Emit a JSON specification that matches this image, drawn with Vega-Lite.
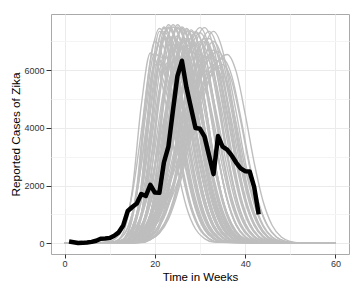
{
"$schema": "https://vega.github.io/schema/vega-lite/v6.json",
"width": 298, "height": 240,
"autosize": {"type": "none"},
"padding": {"left": 51, "top": 14, "right": 14, "bottom": 37},
"config": {"font": "Liberation Sans", "view": {"stroke": "#a9a9a9", "strokeWidth": 1}},
"datasets": {
"sims": [
{"i":1,"x":0,"y":0},{"i":1,"x":11,"y":40},{"i":1,"x":13,"y":370},{"i":1,"x":15,"y":1835},{"i":1,"x":17,"y":4790},{"i":1,"x":19,"y":6600},{"i":1,"x":21,"y":5950},{"i":1,"x":23,"y":4360},{"i":1,"x":25,"y":2610},{"i":1,"x":27,"y":1260},{"i":1,"x":29,"y":495},{"i":1,"x":31,"y":160},{"i":1,"x":33,"y":40},{"i":1,"x":60,"y":0},
{"i":2,"x":0,"y":0},{"i":2,"x":12,"y":42},{"i":2,"x":14,"y":392},{"i":2,"x":16,"y":1946},{"i":2,"x":18,"y":5082},{"i":2,"x":20,"y":7000},{"i":2,"x":22,"y":6314},{"i":2,"x":24,"y":4627},{"i":2,"x":26,"y":2765},{"i":2,"x":28,"y":1337},{"i":2,"x":30,"y":525},{"i":2,"x":32,"y":168},{"i":2,"x":34,"y":42},{"i":2,"x":60,"y":0},
{"i":3,"x":0,"y":0},{"i":3,"x":13,"y":44},{"i":3,"x":15,"y":412},{"i":3,"x":17,"y":2043},{"i":3,"x":19,"y":5336},{"i":3,"x":21,"y":7350},{"i":3,"x":23,"y":6630},{"i":3,"x":25,"y":4858},{"i":3,"x":27,"y":2903},{"i":3,"x":29,"y":1404},{"i":3,"x":31,"y":551},{"i":3,"x":33,"y":176},{"i":3,"x":35,"y":44},{"i":3,"x":60,"y":0},
{"i":4,"x":0,"y":0},{"i":4,"x":13,"y":39},{"i":4,"x":15,"y":364},{"i":4,"x":17,"y":1807},{"i":4,"x":19,"y":4719},{"i":4,"x":21,"y":6500},{"i":4,"x":23,"y":5863},{"i":4,"x":25,"y":4297},{"i":4,"x":27,"y":2568},{"i":4,"x":29,"y":1242},{"i":4,"x":31,"y":488},{"i":4,"x":33,"y":156},{"i":4,"x":35,"y":39},{"i":4,"x":60,"y":0},
{"i":5,"x":0,"y":0},{"i":5,"x":14,"y":43},{"i":5,"x":16,"y":403},{"i":5,"x":18,"y":2002},{"i":5,"x":20,"y":5227},{"i":5,"x":22,"y":7200},{"i":5,"x":24,"y":6494},{"i":5,"x":26,"y":4759},{"i":5,"x":28,"y":2844},{"i":5,"x":30,"y":1375},{"i":5,"x":32,"y":540},{"i":5,"x":34,"y":173},{"i":5,"x":36,"y":43},{"i":5,"x":60,"y":0},
{"i":6,"x":0,"y":0},{"i":6,"x":10,"y":22},{"i":6,"x":12,"y":127},{"i":6,"x":14,"y":544},{"i":6,"x":16,"y":1714},{"i":6,"x":18,"y":3874},{"i":6,"x":20,"y":6325},{"i":6,"x":22,"y":7450},{"i":6,"x":24,"y":6750},{"i":6,"x":26,"y":5021},{"i":6,"x":28,"y":3062},{"i":6,"x":30,"y":1535},{"i":6,"x":32,"y":633},{"i":6,"x":34,"y":216},{"i":6,"x":36,"y":60},{"i":6,"x":60,"y":0},
{"i":7,"x":0,"y":0},{"i":7,"x":11,"y":22},{"i":7,"x":13,"y":128},{"i":7,"x":15,"y":548},{"i":7,"x":17,"y":1725},{"i":7,"x":19,"y":3900},{"i":7,"x":21,"y":6368},{"i":7,"x":23,"y":7500},{"i":7,"x":25,"y":6795},{"i":7,"x":27,"y":5055},{"i":7,"x":29,"y":3083},{"i":7,"x":31,"y":1545},{"i":7,"x":33,"y":638},{"i":7,"x":35,"y":218},{"i":7,"x":37,"y":60},{"i":7,"x":60,"y":0},
{"i":8,"x":0,"y":0},{"i":8,"x":11,"y":19},{"i":8,"x":13,"y":107},{"i":8,"x":15,"y":460},{"i":8,"x":17,"y":1449},{"i":8,"x":19,"y":3276},{"i":8,"x":21,"y":5349},{"i":8,"x":23,"y":6300},{"i":8,"x":25,"y":5708},{"i":8,"x":27,"y":4246},{"i":8,"x":29,"y":2589},{"i":8,"x":31,"y":1298},{"i":8,"x":33,"y":536},{"i":8,"x":35,"y":183},{"i":8,"x":37,"y":50},{"i":8,"x":60,"y":0},
{"i":9,"x":0,"y":0},{"i":9,"x":12,"y":23},{"i":9,"x":14,"y":129},{"i":9,"x":16,"y":553},{"i":9,"x":18,"y":1743},{"i":9,"x":20,"y":3942},{"i":9,"x":22,"y":6435},{"i":9,"x":24,"y":7580},{"i":9,"x":26,"y":6867},{"i":9,"x":28,"y":5109},{"i":9,"x":30,"y":3115},{"i":9,"x":32,"y":1561},{"i":9,"x":34,"y":644},{"i":9,"x":36,"y":220},{"i":9,"x":38,"y":61},{"i":9,"x":60,"y":0},
{"i":10,"x":0,"y":0},{"i":10,"x":16,"y":41},{"i":10,"x":18,"y":386},{"i":10,"x":20,"y":1918},{"i":10,"x":22,"y":5009},{"i":10,"x":24,"y":6900},{"i":10,"x":26,"y":6224},{"i":10,"x":28,"y":4561},{"i":10,"x":30,"y":2726},{"i":10,"x":32,"y":1318},{"i":10,"x":34,"y":518},{"i":10,"x":36,"y":166},{"i":10,"x":38,"y":41},{"i":10,"x":60,"y":0},
{"i":11,"x":0,"y":0},{"i":11,"x":12,"y":22},{"i":11,"x":14,"y":122},{"i":11,"x":16,"y":526},{"i":11,"x":18,"y":1656},{"i":11,"x":20,"y":3744},{"i":11,"x":22,"y":6113},{"i":11,"x":24,"y":7200},{"i":11,"x":26,"y":6523},{"i":11,"x":28,"y":4853},{"i":11,"x":30,"y":2959},{"i":11,"x":32,"y":1483},{"i":11,"x":34,"y":612},{"i":11,"x":36,"y":209},{"i":11,"x":38,"y":58},{"i":11,"x":60,"y":0},
{"i":12,"x":0,"y":0},{"i":12,"x":13,"y":22},{"i":12,"x":15,"y":128},{"i":12,"x":17,"y":548},{"i":12,"x":19,"y":1725},{"i":12,"x":21,"y":3900},{"i":12,"x":23,"y":6368},{"i":12,"x":25,"y":7500},{"i":12,"x":27,"y":6795},{"i":12,"x":29,"y":5055},{"i":12,"x":31,"y":3083},{"i":12,"x":33,"y":1545},{"i":12,"x":35,"y":638},{"i":12,"x":37,"y":218},{"i":12,"x":39,"y":60},{"i":12,"x":60,"y":0},
{"i":13,"x":0,"y":0},{"i":13,"x":13,"y":18},{"i":13,"x":15,"y":102},{"i":13,"x":17,"y":438},{"i":13,"x":19,"y":1380},{"i":13,"x":21,"y":3120},{"i":13,"x":23,"y":5094},{"i":13,"x":25,"y":6000},{"i":13,"x":27,"y":5436},{"i":13,"x":29,"y":4044},{"i":13,"x":31,"y":2466},{"i":13,"x":33,"y":1236},{"i":13,"x":35,"y":510},{"i":13,"x":37,"y":174},{"i":13,"x":39,"y":48},{"i":13,"x":60,"y":0},
{"i":14,"x":0,"y":0},{"i":14,"x":14,"y":22},{"i":14,"x":16,"y":127},{"i":14,"x":18,"y":544},{"i":14,"x":20,"y":1714},{"i":14,"x":22,"y":3874},{"i":14,"x":24,"y":6325},{"i":14,"x":26,"y":7450},{"i":14,"x":28,"y":6750},{"i":14,"x":30,"y":5021},{"i":14,"x":32,"y":3062},{"i":14,"x":34,"y":1535},{"i":14,"x":36,"y":633},{"i":14,"x":38,"y":216},{"i":14,"x":40,"y":60},{"i":14,"x":60,"y":0},
{"i":15,"x":0,"y":0},{"i":15,"x":14,"y":20},{"i":15,"x":16,"y":116},{"i":15,"x":18,"y":496},{"i":15,"x":20,"y":1564},{"i":15,"x":22,"y":3536},{"i":15,"x":24,"y":5773},{"i":15,"x":26,"y":6800},{"i":15,"x":28,"y":6161},{"i":15,"x":30,"y":4583},{"i":15,"x":32,"y":2795},{"i":15,"x":34,"y":1401},{"i":15,"x":36,"y":578},{"i":15,"x":38,"y":197},{"i":15,"x":40,"y":54},{"i":15,"x":60,"y":0},
{"i":16,"x":0,"y":0},{"i":16,"x":15,"y":22},{"i":16,"x":17,"y":126},{"i":16,"x":19,"y":540},{"i":16,"x":21,"y":1702},{"i":16,"x":23,"y":3848},{"i":16,"x":25,"y":6283},{"i":16,"x":27,"y":7400},{"i":16,"x":29,"y":6704},{"i":16,"x":31,"y":4988},{"i":16,"x":33,"y":3041},{"i":16,"x":35,"y":1524},{"i":16,"x":37,"y":629},{"i":16,"x":39,"y":215},{"i":16,"x":41,"y":59},{"i":16,"x":60,"y":0},
{"i":17,"x":0,"y":0},{"i":17,"x":11,"y":43},{"i":17,"x":13,"y":142},{"i":17,"x":15,"y":398},{"i":17,"x":17,"y":959},{"i":17,"x":19,"y":1974},{"i":17,"x":21,"y":3458},{"i":17,"x":23,"y":5155},{"i":17,"x":25,"y":6553},{"i":17,"x":27,"y":7100},{"i":17,"x":29,"y":6461},{"i":17,"x":31,"y":4864},{"i":17,"x":33,"y":3032},{"i":17,"x":35,"y":1562},{"i":17,"x":37,"y":667},{"i":17,"x":39,"y":234},{"i":17,"x":41,"y":71},{"i":17,"x":43,"y":14},{"i":17,"x":60,"y":0},
{"i":18,"x":0,"y":0},{"i":18,"x":15,"y":15},{"i":18,"x":17,"y":85},{"i":18,"x":19,"y":365},{"i":18,"x":21,"y":1150},{"i":18,"x":23,"y":2600},{"i":18,"x":25,"y":4245},{"i":18,"x":27,"y":5000},{"i":18,"x":29,"y":4530},{"i":18,"x":31,"y":3370},{"i":18,"x":33,"y":2055},{"i":18,"x":35,"y":1030},{"i":18,"x":37,"y":425},{"i":18,"x":39,"y":145},{"i":18,"x":41,"y":40},{"i":18,"x":60,"y":0},
{"i":19,"x":0,"y":0},{"i":19,"x":16,"y":22},{"i":19,"x":18,"y":125},{"i":19,"x":20,"y":537},{"i":19,"x":22,"y":1691},{"i":19,"x":24,"y":3822},{"i":19,"x":26,"y":6240},{"i":19,"x":28,"y":7350},{"i":19,"x":30,"y":6659},{"i":19,"x":32,"y":4954},{"i":19,"x":34,"y":3021},{"i":19,"x":36,"y":1514},{"i":19,"x":38,"y":625},{"i":19,"x":40,"y":213},{"i":19,"x":42,"y":59},{"i":19,"x":60,"y":0},
{"i":20,"x":0,"y":0},{"i":20,"x":12,"y":41},{"i":20,"x":14,"y":138},{"i":20,"x":16,"y":386},{"i":20,"x":18,"y":932},{"i":20,"x":20,"y":1918},{"i":20,"x":22,"y":3360},{"i":20,"x":24,"y":5009},{"i":20,"x":26,"y":6369},{"i":20,"x":28,"y":6900},{"i":20,"x":30,"y":6279},{"i":20,"x":32,"y":4727},{"i":20,"x":34,"y":2946},{"i":20,"x":36,"y":1518},{"i":20,"x":38,"y":649},{"i":20,"x":40,"y":228},{"i":20,"x":42,"y":69},{"i":20,"x":44,"y":14},{"i":20,"x":60,"y":0},
{"i":21,"x":0,"y":0},{"i":21,"x":13,"y":44},{"i":21,"x":15,"y":146},{"i":21,"x":17,"y":409},{"i":21,"x":19,"y":986},{"i":21,"x":21,"y":2029},{"i":21,"x":23,"y":3555},{"i":21,"x":25,"y":5300},{"i":21,"x":27,"y":6738},{"i":21,"x":29,"y":7300},{"i":21,"x":31,"y":6643},{"i":21,"x":33,"y":5001},{"i":21,"x":35,"y":3117},{"i":21,"x":37,"y":1606},{"i":21,"x":39,"y":686},{"i":21,"x":41,"y":241},{"i":21,"x":43,"y":73},{"i":21,"x":45,"y":15},{"i":21,"x":60,"y":0},
{"i":22,"x":0,"y":0},{"i":22,"x":13,"y":37},{"i":22,"x":15,"y":124},{"i":22,"x":17,"y":347},{"i":22,"x":19,"y":837},{"i":22,"x":21,"y":1724},{"i":22,"x":23,"y":3019},{"i":22,"x":25,"y":4501},{"i":22,"x":27,"y":5723},{"i":22,"x":29,"y":6200},{"i":22,"x":31,"y":5642},{"i":22,"x":33,"y":4247},{"i":22,"x":35,"y":2647},{"i":22,"x":37,"y":1364},{"i":22,"x":39,"y":583},{"i":22,"x":41,"y":205},{"i":22,"x":43,"y":62},{"i":22,"x":45,"y":12},{"i":22,"x":60,"y":0},
{"i":23,"x":0,"y":0},{"i":23,"x":14,"y":45},{"i":23,"x":16,"y":150},{"i":23,"x":18,"y":419},{"i":23,"x":20,"y":1010},{"i":23,"x":22,"y":2079},{"i":23,"x":24,"y":3643},{"i":23,"x":26,"y":5430},{"i":23,"x":28,"y":6904},{"i":23,"x":30,"y":7480},{"i":23,"x":32,"y":6807},{"i":23,"x":34,"y":5124},{"i":23,"x":36,"y":3194},{"i":23,"x":38,"y":1646},{"i":23,"x":40,"y":703},{"i":23,"x":42,"y":247},{"i":23,"x":44,"y":75},{"i":23,"x":46,"y":15},{"i":23,"x":60,"y":0},
{"i":24,"x":0,"y":0},{"i":24,"x":14,"y":42},{"i":24,"x":16,"y":140},{"i":24,"x":18,"y":392},{"i":24,"x":20,"y":945},{"i":24,"x":22,"y":1946},{"i":24,"x":24,"y":3409},{"i":24,"x":26,"y":5082},{"i":24,"x":28,"y":6461},{"i":24,"x":30,"y":7000},{"i":24,"x":32,"y":6370},{"i":24,"x":34,"y":4795},{"i":24,"x":36,"y":2989},{"i":24,"x":38,"y":1540},{"i":24,"x":40,"y":658},{"i":24,"x":42,"y":231},{"i":24,"x":44,"y":70},{"i":24,"x":46,"y":14},{"i":24,"x":60,"y":0},
{"i":25,"x":0,"y":0},{"i":25,"x":15,"y":43},{"i":25,"x":17,"y":142},{"i":25,"x":19,"y":398},{"i":25,"x":21,"y":959},{"i":25,"x":23,"y":1974},{"i":25,"x":25,"y":3458},{"i":25,"x":27,"y":5155},{"i":25,"x":29,"y":6553},{"i":25,"x":31,"y":7100},{"i":25,"x":33,"y":6461},{"i":25,"x":35,"y":4864},{"i":25,"x":37,"y":3032},{"i":25,"x":39,"y":1562},{"i":25,"x":41,"y":667},{"i":25,"x":43,"y":234},{"i":25,"x":45,"y":71},{"i":25,"x":47,"y":14},{"i":25,"x":60,"y":0},
{"i":26,"x":0,"y":0},{"i":26,"x":16,"y":44},{"i":26,"x":18,"y":147},{"i":26,"x":20,"y":412},{"i":26,"x":22,"y":992},{"i":26,"x":24,"y":2043},{"i":26,"x":26,"y":3579},{"i":26,"x":28,"y":5336},{"i":26,"x":30,"y":6784},{"i":26,"x":32,"y":7350},{"i":26,"x":34,"y":6689},{"i":26,"x":36,"y":5035},{"i":26,"x":38,"y":3138},{"i":26,"x":40,"y":1617},{"i":26,"x":42,"y":691},{"i":26,"x":44,"y":243},{"i":26,"x":46,"y":74},{"i":26,"x":48,"y":15},{"i":26,"x":60,"y":0},
{"i":27,"x":0,"y":0},{"i":27,"x":16,"y":40},{"i":27,"x":18,"y":134},{"i":27,"x":20,"y":375},{"i":27,"x":22,"y":905},{"i":27,"x":24,"y":1863},{"i":27,"x":26,"y":3263},{"i":27,"x":28,"y":4864},{"i":27,"x":30,"y":6184},{"i":27,"x":32,"y":6700},{"i":27,"x":34,"y":6097},{"i":27,"x":36,"y":4590},{"i":27,"x":38,"y":2861},{"i":27,"x":40,"y":1474},{"i":27,"x":42,"y":630},{"i":27,"x":44,"y":221},{"i":27,"x":46,"y":67},{"i":27,"x":48,"y":13},{"i":27,"x":60,"y":0},
{"i":28,"x":0,"y":0},{"i":28,"x":17,"y":42},{"i":28,"x":19,"y":140},{"i":28,"x":21,"y":392},{"i":28,"x":23,"y":945},{"i":28,"x":25,"y":1946},{"i":28,"x":27,"y":3409},{"i":28,"x":29,"y":5082},{"i":28,"x":31,"y":6461},{"i":28,"x":33,"y":7000},{"i":28,"x":35,"y":6370},{"i":28,"x":37,"y":4795},{"i":28,"x":39,"y":2989},{"i":28,"x":41,"y":1540},{"i":28,"x":43,"y":658},{"i":28,"x":45,"y":231},{"i":28,"x":47,"y":70},{"i":28,"x":49,"y":14},{"i":28,"x":60,"y":0},
{"i":29,"x":0,"y":0},{"i":29,"x":17,"y":37},{"i":29,"x":19,"y":124},{"i":29,"x":21,"y":347},{"i":29,"x":23,"y":837},{"i":29,"x":25,"y":1724},{"i":29,"x":27,"y":3019},{"i":29,"x":29,"y":4501},{"i":29,"x":31,"y":5723},{"i":29,"x":33,"y":6200},{"i":29,"x":35,"y":5642},{"i":29,"x":37,"y":4247},{"i":29,"x":39,"y":2647},{"i":29,"x":41,"y":1364},{"i":29,"x":43,"y":583},{"i":29,"x":45,"y":205},{"i":29,"x":47,"y":62},{"i":29,"x":49,"y":12},{"i":29,"x":60,"y":0},
{"i":30,"x":0,"y":0},{"i":30,"x":10,"y":33},{"i":30,"x":12,"y":73},{"i":30,"x":14,"y":160},{"i":30,"x":16,"y":319},{"i":30,"x":18,"y":605},{"i":30,"x":20,"y":1057},{"i":30,"x":22,"y":1722},{"i":30,"x":24,"y":2600},{"i":30,"x":26,"y":3651},{"i":30,"x":28,"y":4741},{"i":30,"x":30,"y":5726},{"i":30,"x":32,"y":6404},{"i":30,"x":34,"y":6650},{"i":30,"x":36,"y":6052},{"i":30,"x":38,"y":4555},{"i":30,"x":40,"y":2840},{"i":30,"x":42,"y":1463},{"i":30,"x":44,"y":625},{"i":30,"x":46,"y":219},{"i":30,"x":48,"y":67},{"i":30,"x":50,"y":13},{"i":30,"x":60,"y":0},
{"i":31,"x":0,"y":0},{"i":31,"x":10,"y":31},{"i":31,"x":12,"y":67},{"i":31,"x":14,"y":146},{"i":31,"x":16,"y":293},{"i":31,"x":18,"y":555},{"i":31,"x":20,"y":970},{"i":31,"x":22,"y":1580},{"i":31,"x":24,"y":2385},{"i":31,"x":26,"y":3349},{"i":31,"x":28,"y":4349},{"i":31,"x":30,"y":5252},{"i":31,"x":32,"y":5874},{"i":31,"x":34,"y":6100},{"i":31,"x":36,"y":5551},{"i":31,"x":38,"y":4179},{"i":31,"x":40,"y":2605},{"i":31,"x":42,"y":1342},{"i":31,"x":44,"y":573},{"i":31,"x":46,"y":201},{"i":31,"x":48,"y":61},{"i":31,"x":50,"y":12},{"i":31,"x":60,"y":0},
{"i":32,"x":0,"y":0},{"i":32,"x":11,"y":32},{"i":32,"x":13,"y":70},{"i":32,"x":15,"y":154},{"i":32,"x":17,"y":307},{"i":32,"x":19,"y":582},{"i":32,"x":21,"y":1018},{"i":32,"x":23,"y":1658},{"i":32,"x":25,"y":2502},{"i":32,"x":27,"y":3514},{"i":32,"x":29,"y":4563},{"i":32,"x":31,"y":5510},{"i":32,"x":33,"y":6163},{"i":32,"x":35,"y":6400},{"i":32,"x":37,"y":5824},{"i":32,"x":39,"y":4384},{"i":32,"x":41,"y":2733},{"i":32,"x":43,"y":1408},{"i":32,"x":45,"y":602},{"i":32,"x":47,"y":211},{"i":32,"x":49,"y":64},{"i":32,"x":51,"y":13},{"i":32,"x":60,"y":0},
{"i":33,"x":0,"y":0},{"i":33,"x":11,"y":31},{"i":33,"x":13,"y":68},{"i":33,"x":15,"y":149},{"i":33,"x":17,"y":298},{"i":33,"x":19,"y":564},{"i":33,"x":21,"y":986},{"i":33,"x":23,"y":1606},{"i":33,"x":25,"y":2424},{"i":33,"x":27,"y":3404},{"i":33,"x":29,"y":4421},{"i":33,"x":31,"y":5338},{"i":33,"x":33,"y":5971},{"i":33,"x":35,"y":6200},{"i":33,"x":37,"y":5642},{"i":33,"x":39,"y":4247},{"i":33,"x":41,"y":2647},{"i":33,"x":43,"y":1364},{"i":33,"x":45,"y":583},{"i":33,"x":47,"y":205},{"i":33,"x":49,"y":62},{"i":33,"x":51,"y":12},{"i":33,"x":60,"y":0},
{"i":34,"x":0,"y":0},{"i":34,"x":12,"y":33},{"i":34,"x":14,"y":72},{"i":34,"x":16,"y":157},{"i":34,"x":18,"y":314},{"i":34,"x":20,"y":596},{"i":34,"x":22,"y":1041},{"i":34,"x":24,"y":1696},{"i":34,"x":26,"y":2561},{"i":34,"x":28,"y":3596},{"i":34,"x":30,"y":4670},{"i":34,"x":32,"y":5640},{"i":34,"x":34,"y":6308},{"i":34,"x":36,"y":6550},{"i":34,"x":38,"y":5961},{"i":34,"x":40,"y":4487},{"i":34,"x":42,"y":2797},{"i":34,"x":44,"y":1441},{"i":34,"x":46,"y":616},{"i":34,"x":48,"y":216},{"i":34,"x":50,"y":66},{"i":34,"x":52,"y":13},{"i":34,"x":60,"y":0},
{"i":35,"x":0,"y":0},{"i":35,"x":12,"y":37},{"i":35,"x":14,"y":347},{"i":35,"x":16,"y":1724},{"i":35,"x":18,"y":4501},{"i":35,"x":20,"y":6200},{"i":35,"x":22,"y":5592},{"i":35,"x":24,"y":4098},{"i":35,"x":26,"y":2449},{"i":35,"x":28,"y":1184},{"i":35,"x":30,"y":465},{"i":35,"x":32,"y":149},{"i":35,"x":34,"y":37},{"i":35,"x":60,"y":0},
{"i":36,"x":0,"y":0},{"i":36,"x":14,"y":17},{"i":36,"x":16,"y":95},{"i":36,"x":18,"y":409},{"i":36,"x":20,"y":1288},{"i":36,"x":22,"y":2912},{"i":36,"x":24,"y":4754},{"i":36,"x":26,"y":5600},{"i":36,"x":28,"y":5074},{"i":36,"x":30,"y":3774},{"i":36,"x":32,"y":2302},{"i":36,"x":34,"y":1154},{"i":36,"x":36,"y":476},{"i":36,"x":38,"y":162},{"i":36,"x":40,"y":45},{"i":36,"x":60,"y":0},
{"i":37,"x":0,"y":0},{"i":37,"x":15,"y":39},{"i":37,"x":17,"y":130},{"i":37,"x":19,"y":364},{"i":37,"x":21,"y":878},{"i":37,"x":23,"y":1807},{"i":37,"x":25,"y":3166},{"i":37,"x":27,"y":4719},{"i":37,"x":29,"y":5995},{"i":37,"x":31,"y":6500},{"i":37,"x":33,"y":5915},{"i":37,"x":35,"y":4453},{"i":37,"x":37,"y":2776},{"i":37,"x":39,"y":1430},{"i":37,"x":41,"y":611},{"i":37,"x":43,"y":215},{"i":37,"x":45,"y":65},{"i":37,"x":47,"y":13},{"i":37,"x":60,"y":0},
{"i":38,"x":0,"y":0},{"i":38,"x":13,"y":21},{"i":38,"x":15,"y":119},{"i":38,"x":17,"y":511},{"i":38,"x":19,"y":1610},{"i":38,"x":21,"y":3640},{"i":38,"x":23,"y":5943},{"i":38,"x":25,"y":7000},{"i":38,"x":27,"y":6342},{"i":38,"x":29,"y":4718},{"i":38,"x":31,"y":2877},{"i":38,"x":33,"y":1442},{"i":38,"x":35,"y":595},{"i":38,"x":37,"y":203},{"i":38,"x":39,"y":56},{"i":38,"x":60,"y":0},
{"i":101,"x":0,"y":0},{"i":101,"x":12,"y":40},{"i":101,"x":14,"y":370},{"i":101,"x":16,"y":1835},{"i":101,"x":18,"y":4790},{"i":101,"x":20,"y":6600},{"i":101,"x":22,"y":5950},{"i":101,"x":24,"y":4360},{"i":101,"x":26,"y":2610},{"i":101,"x":28,"y":1260},{"i":101,"x":30,"y":495},{"i":101,"x":32,"y":160},{"i":101,"x":34,"y":40},{"i":101,"x":60,"y":0},
{"i":102,"x":0,"y":0},{"i":102,"x":13,"y":42},{"i":102,"x":15,"y":392},{"i":102,"x":17,"y":1946},{"i":102,"x":19,"y":5082},{"i":102,"x":21,"y":7000},{"i":102,"x":23,"y":6314},{"i":102,"x":25,"y":4627},{"i":102,"x":27,"y":2765},{"i":102,"x":29,"y":1337},{"i":102,"x":31,"y":525},{"i":102,"x":33,"y":168},{"i":102,"x":35,"y":42},{"i":102,"x":60,"y":0},
{"i":103,"x":0,"y":0},{"i":103,"x":14,"y":44},{"i":103,"x":16,"y":412},{"i":103,"x":18,"y":2043},{"i":103,"x":20,"y":5336},{"i":103,"x":22,"y":7350},{"i":103,"x":24,"y":6630},{"i":103,"x":26,"y":4858},{"i":103,"x":28,"y":2903},{"i":103,"x":30,"y":1404},{"i":103,"x":32,"y":551},{"i":103,"x":34,"y":176},{"i":103,"x":36,"y":44},{"i":103,"x":60,"y":0},
{"i":104,"x":0,"y":0},{"i":104,"x":14,"y":39},{"i":104,"x":16,"y":364},{"i":104,"x":18,"y":1807},{"i":104,"x":20,"y":4719},{"i":104,"x":22,"y":6500},{"i":104,"x":24,"y":5863},{"i":104,"x":26,"y":4297},{"i":104,"x":28,"y":2568},{"i":104,"x":30,"y":1242},{"i":104,"x":32,"y":488},{"i":104,"x":34,"y":156},{"i":104,"x":36,"y":39},{"i":104,"x":60,"y":0},
{"i":105,"x":0,"y":0},{"i":105,"x":15,"y":43},{"i":105,"x":17,"y":403},{"i":105,"x":19,"y":2002},{"i":105,"x":21,"y":5227},{"i":105,"x":23,"y":7200},{"i":105,"x":25,"y":6494},{"i":105,"x":27,"y":4759},{"i":105,"x":29,"y":2844},{"i":105,"x":31,"y":1375},{"i":105,"x":33,"y":540},{"i":105,"x":35,"y":173},{"i":105,"x":37,"y":43},{"i":105,"x":60,"y":0},
{"i":106,"x":0,"y":0},{"i":106,"x":11,"y":22},{"i":106,"x":13,"y":127},{"i":106,"x":15,"y":544},{"i":106,"x":17,"y":1714},{"i":106,"x":19,"y":3874},{"i":106,"x":21,"y":6325},{"i":106,"x":23,"y":7450},{"i":106,"x":25,"y":6750},{"i":106,"x":27,"y":5021},{"i":106,"x":29,"y":3062},{"i":106,"x":31,"y":1535},{"i":106,"x":33,"y":633},{"i":106,"x":35,"y":216},{"i":106,"x":37,"y":60},{"i":106,"x":60,"y":0},
{"i":107,"x":0,"y":0},{"i":107,"x":12,"y":22},{"i":107,"x":14,"y":128},{"i":107,"x":16,"y":548},{"i":107,"x":18,"y":1725},{"i":107,"x":20,"y":3900},{"i":107,"x":22,"y":6368},{"i":107,"x":24,"y":7500},{"i":107,"x":26,"y":6795},{"i":107,"x":28,"y":5055},{"i":107,"x":30,"y":3083},{"i":107,"x":32,"y":1545},{"i":107,"x":34,"y":638},{"i":107,"x":36,"y":218},{"i":107,"x":38,"y":60},{"i":107,"x":60,"y":0},
{"i":108,"x":0,"y":0},{"i":108,"x":12,"y":19},{"i":108,"x":14,"y":107},{"i":108,"x":16,"y":460},{"i":108,"x":18,"y":1449},{"i":108,"x":20,"y":3276},{"i":108,"x":22,"y":5349},{"i":108,"x":24,"y":6300},{"i":108,"x":26,"y":5708},{"i":108,"x":28,"y":4246},{"i":108,"x":30,"y":2589},{"i":108,"x":32,"y":1298},{"i":108,"x":34,"y":536},{"i":108,"x":36,"y":183},{"i":108,"x":38,"y":50},{"i":108,"x":60,"y":0},
{"i":109,"x":0,"y":0},{"i":109,"x":13,"y":23},{"i":109,"x":15,"y":129},{"i":109,"x":17,"y":553},{"i":109,"x":19,"y":1743},{"i":109,"x":21,"y":3942},{"i":109,"x":23,"y":6435},{"i":109,"x":25,"y":7580},{"i":109,"x":27,"y":6867},{"i":109,"x":29,"y":5109},{"i":109,"x":31,"y":3115},{"i":109,"x":33,"y":1561},{"i":109,"x":35,"y":644},{"i":109,"x":37,"y":220},{"i":109,"x":39,"y":61},{"i":109,"x":60,"y":0},
{"i":110,"x":0,"y":0},{"i":110,"x":17,"y":41},{"i":110,"x":19,"y":386},{"i":110,"x":21,"y":1918},{"i":110,"x":23,"y":5009},{"i":110,"x":25,"y":6900},{"i":110,"x":27,"y":6224},{"i":110,"x":29,"y":4561},{"i":110,"x":31,"y":2726},{"i":110,"x":33,"y":1318},{"i":110,"x":35,"y":518},{"i":110,"x":37,"y":166},{"i":110,"x":39,"y":41},{"i":110,"x":60,"y":0},
{"i":111,"x":0,"y":0},{"i":111,"x":13,"y":22},{"i":111,"x":15,"y":122},{"i":111,"x":17,"y":526},{"i":111,"x":19,"y":1656},{"i":111,"x":21,"y":3744},{"i":111,"x":23,"y":6113},{"i":111,"x":25,"y":7200},{"i":111,"x":27,"y":6523},{"i":111,"x":29,"y":4853},{"i":111,"x":31,"y":2959},{"i":111,"x":33,"y":1483},{"i":111,"x":35,"y":612},{"i":111,"x":37,"y":209},{"i":111,"x":39,"y":58},{"i":111,"x":60,"y":0},
{"i":112,"x":0,"y":0},{"i":112,"x":14,"y":22},{"i":112,"x":16,"y":128},{"i":112,"x":18,"y":548},{"i":112,"x":20,"y":1725},{"i":112,"x":22,"y":3900},{"i":112,"x":24,"y":6368},{"i":112,"x":26,"y":7500},{"i":112,"x":28,"y":6795},{"i":112,"x":30,"y":5055},{"i":112,"x":32,"y":3083},{"i":112,"x":34,"y":1545},{"i":112,"x":36,"y":638},{"i":112,"x":38,"y":218},{"i":112,"x":40,"y":60},{"i":112,"x":60,"y":0},
{"i":113,"x":0,"y":0},{"i":113,"x":14,"y":18},{"i":113,"x":16,"y":102},{"i":113,"x":18,"y":438},{"i":113,"x":20,"y":1380},{"i":113,"x":22,"y":3120},{"i":113,"x":24,"y":5094},{"i":113,"x":26,"y":6000},{"i":113,"x":28,"y":5436},{"i":113,"x":30,"y":4044},{"i":113,"x":32,"y":2466},{"i":113,"x":34,"y":1236},{"i":113,"x":36,"y":510},{"i":113,"x":38,"y":174},{"i":113,"x":40,"y":48},{"i":113,"x":60,"y":0},
{"i":114,"x":0,"y":0},{"i":114,"x":15,"y":22},{"i":114,"x":17,"y":127},{"i":114,"x":19,"y":544},{"i":114,"x":21,"y":1714},{"i":114,"x":23,"y":3874},{"i":114,"x":25,"y":6325},{"i":114,"x":27,"y":7450},{"i":114,"x":29,"y":6750},{"i":114,"x":31,"y":5021},{"i":114,"x":33,"y":3062},{"i":114,"x":35,"y":1535},{"i":114,"x":37,"y":633},{"i":114,"x":39,"y":216},{"i":114,"x":41,"y":60},{"i":114,"x":60,"y":0},
{"i":115,"x":0,"y":0},{"i":115,"x":15,"y":20},{"i":115,"x":17,"y":116},{"i":115,"x":19,"y":496},{"i":115,"x":21,"y":1564},{"i":115,"x":23,"y":3536},{"i":115,"x":25,"y":5773},{"i":115,"x":27,"y":6800},{"i":115,"x":29,"y":6161},{"i":115,"x":31,"y":4583},{"i":115,"x":33,"y":2795},{"i":115,"x":35,"y":1401},{"i":115,"x":37,"y":578},{"i":115,"x":39,"y":197},{"i":115,"x":41,"y":54},{"i":115,"x":60,"y":0},
{"i":116,"x":0,"y":0},{"i":116,"x":16,"y":22},{"i":116,"x":18,"y":126},{"i":116,"x":20,"y":540},{"i":116,"x":22,"y":1702},{"i":116,"x":24,"y":3848},{"i":116,"x":26,"y":6283},{"i":116,"x":28,"y":7400},{"i":116,"x":30,"y":6704},{"i":116,"x":32,"y":4988},{"i":116,"x":34,"y":3041},{"i":116,"x":36,"y":1524},{"i":116,"x":38,"y":629},{"i":116,"x":40,"y":215},{"i":116,"x":42,"y":59},{"i":116,"x":60,"y":0},
{"i":117,"x":0,"y":0},{"i":117,"x":12,"y":43},{"i":117,"x":14,"y":142},{"i":117,"x":16,"y":398},{"i":117,"x":18,"y":959},{"i":117,"x":20,"y":1974},{"i":117,"x":22,"y":3458},{"i":117,"x":24,"y":5155},{"i":117,"x":26,"y":6553},{"i":117,"x":28,"y":7100},{"i":117,"x":30,"y":6461},{"i":117,"x":32,"y":4864},{"i":117,"x":34,"y":3032},{"i":117,"x":36,"y":1562},{"i":117,"x":38,"y":667},{"i":117,"x":40,"y":234},{"i":117,"x":42,"y":71},{"i":117,"x":44,"y":14},{"i":117,"x":60,"y":0},
{"i":118,"x":0,"y":0},{"i":118,"x":16,"y":15},{"i":118,"x":18,"y":85},{"i":118,"x":20,"y":365},{"i":118,"x":22,"y":1150},{"i":118,"x":24,"y":2600},{"i":118,"x":26,"y":4245},{"i":118,"x":28,"y":5000},{"i":118,"x":30,"y":4530},{"i":118,"x":32,"y":3370},{"i":118,"x":34,"y":2055},{"i":118,"x":36,"y":1030},{"i":118,"x":38,"y":425},{"i":118,"x":40,"y":145},{"i":118,"x":42,"y":40},{"i":118,"x":60,"y":0},
{"i":119,"x":0,"y":0},{"i":119,"x":17,"y":22},{"i":119,"x":19,"y":125},{"i":119,"x":21,"y":537},{"i":119,"x":23,"y":1691},{"i":119,"x":25,"y":3822},{"i":119,"x":27,"y":6240},{"i":119,"x":29,"y":7350},{"i":119,"x":31,"y":6659},{"i":119,"x":33,"y":4954},{"i":119,"x":35,"y":3021},{"i":119,"x":37,"y":1514},{"i":119,"x":39,"y":625},{"i":119,"x":41,"y":213},{"i":119,"x":43,"y":59},{"i":119,"x":60,"y":0},
{"i":120,"x":0,"y":0},{"i":120,"x":13,"y":41},{"i":120,"x":15,"y":138},{"i":120,"x":17,"y":386},{"i":120,"x":19,"y":932},{"i":120,"x":21,"y":1918},{"i":120,"x":23,"y":3360},{"i":120,"x":25,"y":5009},{"i":120,"x":27,"y":6369},{"i":120,"x":29,"y":6900},{"i":120,"x":31,"y":6279},{"i":120,"x":33,"y":4727},{"i":120,"x":35,"y":2946},{"i":120,"x":37,"y":1518},{"i":120,"x":39,"y":649},{"i":120,"x":41,"y":228},{"i":120,"x":43,"y":69},{"i":120,"x":45,"y":14},{"i":120,"x":60,"y":0},
{"i":121,"x":0,"y":0},{"i":121,"x":14,"y":44},{"i":121,"x":16,"y":146},{"i":121,"x":18,"y":409},{"i":121,"x":20,"y":986},{"i":121,"x":22,"y":2029},{"i":121,"x":24,"y":3555},{"i":121,"x":26,"y":5300},{"i":121,"x":28,"y":6738},{"i":121,"x":30,"y":7300},{"i":121,"x":32,"y":6643},{"i":121,"x":34,"y":5001},{"i":121,"x":36,"y":3117},{"i":121,"x":38,"y":1606},{"i":121,"x":40,"y":686},{"i":121,"x":42,"y":241},{"i":121,"x":44,"y":73},{"i":121,"x":46,"y":15},{"i":121,"x":60,"y":0},
{"i":122,"x":0,"y":0},{"i":122,"x":14,"y":37},{"i":122,"x":16,"y":124},{"i":122,"x":18,"y":347},{"i":122,"x":20,"y":837},{"i":122,"x":22,"y":1724},{"i":122,"x":24,"y":3019},{"i":122,"x":26,"y":4501},{"i":122,"x":28,"y":5723},{"i":122,"x":30,"y":6200},{"i":122,"x":32,"y":5642},{"i":122,"x":34,"y":4247},{"i":122,"x":36,"y":2647},{"i":122,"x":38,"y":1364},{"i":122,"x":40,"y":583},{"i":122,"x":42,"y":205},{"i":122,"x":44,"y":62},{"i":122,"x":46,"y":12},{"i":122,"x":60,"y":0},
{"i":123,"x":0,"y":0},{"i":123,"x":15,"y":45},{"i":123,"x":17,"y":150},{"i":123,"x":19,"y":419},{"i":123,"x":21,"y":1010},{"i":123,"x":23,"y":2079},{"i":123,"x":25,"y":3643},{"i":123,"x":27,"y":5430},{"i":123,"x":29,"y":6904},{"i":123,"x":31,"y":7480},{"i":123,"x":33,"y":6807},{"i":123,"x":35,"y":5124},{"i":123,"x":37,"y":3194},{"i":123,"x":39,"y":1646},{"i":123,"x":41,"y":703},{"i":123,"x":43,"y":247},{"i":123,"x":45,"y":75},{"i":123,"x":47,"y":15},{"i":123,"x":60,"y":0},
{"i":124,"x":0,"y":0},{"i":124,"x":15,"y":42},{"i":124,"x":17,"y":140},{"i":124,"x":19,"y":392},{"i":124,"x":21,"y":945},{"i":124,"x":23,"y":1946},{"i":124,"x":25,"y":3409},{"i":124,"x":27,"y":5082},{"i":124,"x":29,"y":6461},{"i":124,"x":31,"y":7000},{"i":124,"x":33,"y":6370},{"i":124,"x":35,"y":4795},{"i":124,"x":37,"y":2989},{"i":124,"x":39,"y":1540},{"i":124,"x":41,"y":658},{"i":124,"x":43,"y":231},{"i":124,"x":45,"y":70},{"i":124,"x":47,"y":14},{"i":124,"x":60,"y":0},
{"i":125,"x":0,"y":0},{"i":125,"x":16,"y":43},{"i":125,"x":18,"y":142},{"i":125,"x":20,"y":398},{"i":125,"x":22,"y":959},{"i":125,"x":24,"y":1974},{"i":125,"x":26,"y":3458},{"i":125,"x":28,"y":5155},{"i":125,"x":30,"y":6553},{"i":125,"x":32,"y":7100},{"i":125,"x":34,"y":6461},{"i":125,"x":36,"y":4864},{"i":125,"x":38,"y":3032},{"i":125,"x":40,"y":1562},{"i":125,"x":42,"y":667},{"i":125,"x":44,"y":234},{"i":125,"x":46,"y":71},{"i":125,"x":48,"y":14},{"i":125,"x":60,"y":0},
{"i":126,"x":0,"y":0},{"i":126,"x":17,"y":44},{"i":126,"x":19,"y":147},{"i":126,"x":21,"y":412},{"i":126,"x":23,"y":992},{"i":126,"x":25,"y":2043},{"i":126,"x":27,"y":3579},{"i":126,"x":29,"y":5336},{"i":126,"x":31,"y":6784},{"i":126,"x":33,"y":7350},{"i":126,"x":35,"y":6689},{"i":126,"x":37,"y":5035},{"i":126,"x":39,"y":3138},{"i":126,"x":41,"y":1617},{"i":126,"x":43,"y":691},{"i":126,"x":45,"y":243},{"i":126,"x":47,"y":74},{"i":126,"x":49,"y":15},{"i":126,"x":60,"y":0},
{"i":127,"x":0,"y":0},{"i":127,"x":17,"y":40},{"i":127,"x":19,"y":134},{"i":127,"x":21,"y":375},{"i":127,"x":23,"y":905},{"i":127,"x":25,"y":1863},{"i":127,"x":27,"y":3263},{"i":127,"x":29,"y":4864},{"i":127,"x":31,"y":6184},{"i":127,"x":33,"y":6700},{"i":127,"x":35,"y":6097},{"i":127,"x":37,"y":4590},{"i":127,"x":39,"y":2861},{"i":127,"x":41,"y":1474},{"i":127,"x":43,"y":630},{"i":127,"x":45,"y":221},{"i":127,"x":47,"y":67},{"i":127,"x":49,"y":13},{"i":127,"x":60,"y":0},
{"i":135,"x":0,"y":0},{"i":135,"x":13,"y":37},{"i":135,"x":15,"y":347},{"i":135,"x":17,"y":1724},{"i":135,"x":19,"y":4501},{"i":135,"x":21,"y":6200},{"i":135,"x":23,"y":5592},{"i":135,"x":25,"y":4098},{"i":135,"x":27,"y":2449},{"i":135,"x":29,"y":1184},{"i":135,"x":31,"y":465},{"i":135,"x":33,"y":149},{"i":135,"x":35,"y":37},{"i":135,"x":60,"y":0},
{"i":136,"x":0,"y":0},{"i":136,"x":15,"y":17},{"i":136,"x":17,"y":95},{"i":136,"x":19,"y":409},{"i":136,"x":21,"y":1288},{"i":136,"x":23,"y":2912},{"i":136,"x":25,"y":4754},{"i":136,"x":27,"y":5600},{"i":136,"x":29,"y":5074},{"i":136,"x":31,"y":3774},{"i":136,"x":33,"y":2302},{"i":136,"x":35,"y":1154},{"i":136,"x":37,"y":476},{"i":136,"x":39,"y":162},{"i":136,"x":41,"y":45},{"i":136,"x":60,"y":0},
{"i":137,"x":0,"y":0},{"i":137,"x":16,"y":39},{"i":137,"x":18,"y":130},{"i":137,"x":20,"y":364},{"i":137,"x":22,"y":878},{"i":137,"x":24,"y":1807},{"i":137,"x":26,"y":3166},{"i":137,"x":28,"y":4719},{"i":137,"x":30,"y":5995},{"i":137,"x":32,"y":6500},{"i":137,"x":34,"y":5915},{"i":137,"x":36,"y":4453},{"i":137,"x":38,"y":2776},{"i":137,"x":40,"y":1430},{"i":137,"x":42,"y":611},{"i":137,"x":44,"y":215},{"i":137,"x":46,"y":65},{"i":137,"x":48,"y":13},{"i":137,"x":60,"y":0},
{"i":138,"x":0,"y":0},{"i":138,"x":14,"y":21},{"i":138,"x":16,"y":119},{"i":138,"x":18,"y":511},{"i":138,"x":20,"y":1610},{"i":138,"x":22,"y":3640},{"i":138,"x":24,"y":5943},{"i":138,"x":26,"y":7000},{"i":138,"x":28,"y":6342},{"i":138,"x":30,"y":4718},{"i":138,"x":32,"y":2877},{"i":138,"x":34,"y":1442},{"i":138,"x":36,"y":595},{"i":138,"x":38,"y":203},{"i":138,"x":40,"y":56},{"i":138,"x":60,"y":0},
{"i":206,"x":0,"y":0},{"i":206,"x":9,"y":22},{"i":206,"x":11,"y":127},{"i":206,"x":13,"y":544},{"i":206,"x":15,"y":1714},{"i":206,"x":17,"y":3874},{"i":206,"x":19,"y":6325},{"i":206,"x":21,"y":7450},{"i":206,"x":23,"y":6750},{"i":206,"x":25,"y":5021},{"i":206,"x":27,"y":3062},{"i":206,"x":29,"y":1535},{"i":206,"x":31,"y":633},{"i":206,"x":33,"y":216},{"i":206,"x":35,"y":60},{"i":206,"x":60,"y":0},
{"i":207,"x":0,"y":0},{"i":207,"x":10,"y":22},{"i":207,"x":12,"y":128},{"i":207,"x":14,"y":548},{"i":207,"x":16,"y":1725},{"i":207,"x":18,"y":3900},{"i":207,"x":20,"y":6368},{"i":207,"x":22,"y":7500},{"i":207,"x":24,"y":6795},{"i":207,"x":26,"y":5055},{"i":207,"x":28,"y":3083},{"i":207,"x":30,"y":1545},{"i":207,"x":32,"y":638},{"i":207,"x":34,"y":218},{"i":207,"x":36,"y":60},{"i":207,"x":60,"y":0},
{"i":209,"x":0,"y":0},{"i":209,"x":11,"y":23},{"i":209,"x":13,"y":129},{"i":209,"x":15,"y":553},{"i":209,"x":17,"y":1743},{"i":209,"x":19,"y":3942},{"i":209,"x":21,"y":6435},{"i":209,"x":23,"y":7580},{"i":209,"x":25,"y":6867},{"i":209,"x":27,"y":5109},{"i":209,"x":29,"y":3115},{"i":209,"x":31,"y":1561},{"i":209,"x":33,"y":644},{"i":209,"x":35,"y":220},{"i":209,"x":37,"y":61},{"i":209,"x":60,"y":0},
{"i":214,"x":0,"y":0},{"i":214,"x":13,"y":22},{"i":214,"x":15,"y":127},{"i":214,"x":17,"y":544},{"i":214,"x":19,"y":1714},{"i":214,"x":21,"y":3874},{"i":214,"x":23,"y":6325},{"i":214,"x":25,"y":7450},{"i":214,"x":27,"y":6750},{"i":214,"x":29,"y":5021},{"i":214,"x":31,"y":3062},{"i":214,"x":33,"y":1535},{"i":214,"x":35,"y":633},{"i":214,"x":37,"y":216},{"i":214,"x":39,"y":60},{"i":214,"x":60,"y":0},
{"i":216,"x":0,"y":0},{"i":216,"x":14,"y":22},{"i":216,"x":16,"y":126},{"i":216,"x":18,"y":540},{"i":216,"x":20,"y":1702},{"i":216,"x":22,"y":3848},{"i":216,"x":24,"y":6283},{"i":216,"x":26,"y":7400},{"i":216,"x":28,"y":6704},{"i":216,"x":30,"y":4988},{"i":216,"x":32,"y":3041},{"i":216,"x":34,"y":1524},{"i":216,"x":36,"y":629},{"i":216,"x":38,"y":215},{"i":216,"x":40,"y":59},{"i":216,"x":60,"y":0},
{"i":219,"x":0,"y":0},{"i":219,"x":15,"y":22},{"i":219,"x":17,"y":125},{"i":219,"x":19,"y":537},{"i":219,"x":21,"y":1691},{"i":219,"x":23,"y":3822},{"i":219,"x":25,"y":6240},{"i":219,"x":27,"y":7350},{"i":219,"x":29,"y":6659},{"i":219,"x":31,"y":4954},{"i":219,"x":33,"y":3021},{"i":219,"x":35,"y":1514},{"i":219,"x":37,"y":625},{"i":219,"x":39,"y":213},{"i":219,"x":41,"y":59},{"i":219,"x":60,"y":0}
],
"obs": [
{"x":1,"y":60},{"x":2,"y":35},{"x":3,"y":10},{"x":4,"y":15},{"x":5,"y":30},{"x":6,"y":50},{"x":7,"y":90},{"x":8,"y":160},{"x":9,"y":165},{"x":10,"y":180},
{"x":11,"y":260},{"x":12,"y":380},{"x":13,"y":620},{"x":14,"y":1120},{"x":15,"y":1260},{"x":16,"y":1380},{"x":17,"y":1710},{"x":18,"y":1640},{"x":19,"y":2030},{"x":20,"y":1760},
{"x":21,"y":1750},{"x":22,"y":2800},{"x":23,"y":3350},{"x":24,"y":4600},{"x":25,"y":5800},{"x":26,"y":6330},{"x":27,"y":5400},{"x":28,"y":4700},{"x":29,"y":4000},{"x":30,"y":3970},
{"x":31,"y":3700},{"x":32,"y":3050},{"x":33,"y":2400},{"x":34,"y":3720},{"x":35,"y":3350},{"x":36,"y":3250},{"x":37,"y":3050},{"x":38,"y":2800},{"x":39,"y":2600},{"x":40,"y":2500},
{"x":41,"y":2490},{"x":42,"y":1950},{"x":43,"y":1000}
]
},
"encoding": {
"x": {"field": "x", "type": "quantitative", "scale": {"domain": [-3, 63], "nice": false, "zero": false},
  "axis": {"title": "Time in Weeks", "values": [0,10,20,30,40,50,60], "format": "d",
    "labelExpr": "datum.value % 20 === 0 ? datum.label : ''", "labelOverlap": false, "labelFlush": false,
    "domain": false, "grid": true,
    "gridColor": {"condition": {"test": "datum.value % 20 === 0", "value": "#ebebeb"}, "value": "#f4f4f4"},
    "tickColor": {"condition": {"test": "datum.value % 20 === 0", "value": "#333333"}, "value": "rgba(0,0,0,0)"},
    "tickSize": 4, "labelPadding": 1, "labelFontSize": 9, "labelColor": "#333333",
    "titleFontSize": 11.5, "titleFontWeight": "normal", "titleColor": "#000000", "titlePadding": 3}},
"y": {"field": "y", "type": "quantitative", "scale": {"domain": [-371, 7952], "nice": false, "zero": false},
  "axis": {"title": "Reported Cases of Zika", "values": [0,1000,2000,3000,4000,5000,6000,7000], "format": "d",
    "labelExpr": "datum.value % 2000 === 0 ? datum.label : ''", "labelOverlap": false, "labelFlush": false,
    "domain": false, "grid": true,
    "gridColor": {"condition": {"test": "datum.value % 2000 === 0", "value": "#ebebeb"}, "value": "#f4f4f4"},
    "tickColor": {"condition": {"test": "datum.value % 2000 === 0", "value": "#333333"}, "value": "rgba(0,0,0,0)"},
    "tickSize": 5, "labelPadding": 2, "labelFontSize": 9, "labelColor": "#333333",
    "titleFontSize": 11.8, "titleFontWeight": "normal", "titleColor": "#000000", "titlePadding": 2.5}}
},
"layer": [
{"data": {"name": "sims"}, "mark": {"type": "line", "color": "#bebebe", "strokeWidth": 1.4, "interpolate": "monotone"},
 "encoding": {"detail": {"field": "i", "type": "nominal"}}},
{"data": {"name": "obs"}, "mark": {"type": "line", "color": "#000000", "strokeWidth": 4.5, "strokeJoin": "round"},
 "encoding": {}}
]
}
